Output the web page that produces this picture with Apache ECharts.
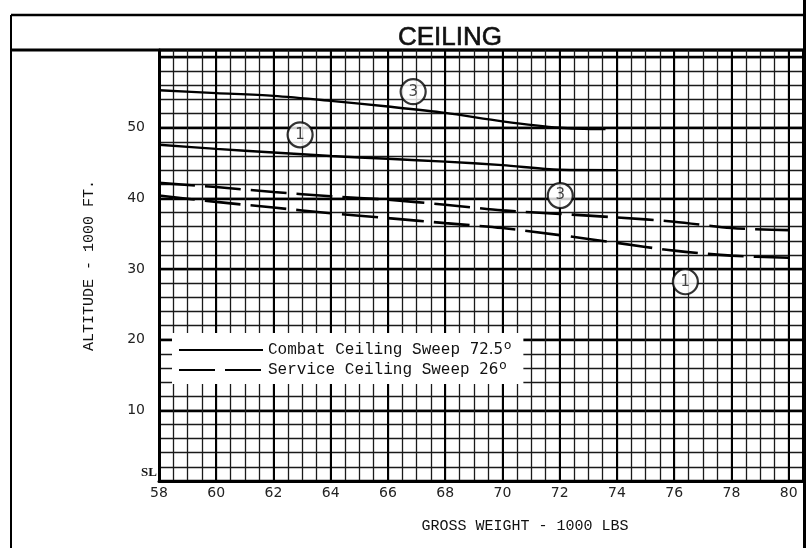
<!DOCTYPE html>
<html>
<head>
<meta charset="utf-8">
<script src="https://cdn.jsdelivr.net/npm/echarts@6/dist/echarts.min.js"></script>
<style>html,body{margin:0;padding:0;background:#fff}#c{width:809px;height:548px}</style>
</head>
<body>
<div id="c"></div>
<script>
// ---- data ----
const weights = [58, 60, 62, 64, 66, 68, 70, 72, 74, 76, 78, 80];
const combatCfg3 = [[58,55.3],[60,54.9],[62,54.5],[64,53.8],[66,53.0],[68,52.1],[70,50.9],[72,50.0],[73.6,49.8]];
const combatCfg1 = [[58,47.6],[60,47.0],[62,46.5],[64,46.0],[66,45.6],[68,45.2],[70,44.7],[72,44.05],[74,44.0]];
const serviceCfg3 = [42.2, 41.6, 40.9, 40.3, 39.8, 39.1, 38.3, 37.8, 37.3, 36.7, 35.8, 35.5];
const serviceCfg1 = [40.4, 39.5, 38.7, 37.9, 37.2, 36.5, 35.8, 34.8, 33.7, 32.6, 31.9, 31.6];
const configMarks = [[66.88,55.1,'3'],[62.93,49.0,'1'],[72.02,40.4,'3'],[76.39,28.2,'1']];
const legendNames = ['Combat Ceiling Sweep', 'Service Ceiling Sweep'];
const legendSweeps = ['72.5', '26'];
const yTickLabels = {0:'SL',10:'10',20:'20',30:'30',40:'40',50:'50'};
const xTickLabels = [58,60,62,64,66,68,70,72,74,76,78,80];

const combatName = legendNames[0] + ' ' + legendSweeps[0];
const serviceName = legendNames[1] + ' ' + legendSweeps[1];
const pair = arr => weights.map((w,i)=>[w,arr[i]]);

const chart = echarts.init(document.getElementById('c'));
const ink = '#111';
const gridColor = '#1a1a1a';
const monoFont = 'Liberation Mono';

chart.setOption({
  backgroundColor: '#fff',
  animation: false,
  title: {
    text: 'CEILING', left: 445, top: 20, textAlign: 'center',
    textStyle: {fontFamily: 'Liberation Sans', fontSize: 26, fontWeight: 'normal', color: ink, textBorderColor: ink, textBorderWidth: 0.6}
  },
  grid: {left: 159, right: 6, top: 50, bottom: 67},
  legend: {
    orient: 'vertical', left: 172, top: 333,
    backgroundColor: '#fff', padding: [7, 12, 4, 6], itemGap: 0,
    itemWidth: 84, itemHeight: 10,
    data: [combatName, serviceName],
    itemStyle: {opacity: 0},
    formatter: name => {
      const i = name === combatName ? 0 : 1;
      return legendNames[i] + ' {num|' + legendSweeps[i] + '}{sup|o}';
    },
    textStyle: {
      fontFamily: monoFont, fontSize: 16, color: ink, lineHeight: 20,
      rich: {
        num: {fontFamily: 'DejaVu Sans', fontSize: 15, color: ink, lineHeight: 20},
        sup: {fontFamily: 'DejaVu Sans', fontSize: 12, color: ink, lineHeight: 12, verticalAlign: 'top', padding: [0,0,0,1]}
      }
    }
  },
  xAxis: [{
    type: 'value', min: 58, max: 80.5, interval: 0.5,
    name: 'GROSS WEIGHT - 1000 LBS', nameLocation: 'middle', nameGap: 38,
    nameTextStyle: {fontFamily: monoFont, fontSize: 15, color: ink, padding: [0,0,0,88]},
    axisLine: {show: true, onZero: false, lineStyle: {color: '#000', width: 3}},
    axisTick: {show: false},
    axisLabel: {
      margin: 5, fontFamily: 'DejaVu Sans', fontSize: 14, color: '#222',
      formatter: v => xTickLabels.includes(v) ? String(v) : ''
    },
    splitLine: {show: true, lineStyle: {color: gridColor, width: 1.3}}
  }, {
    type: 'value', min: 58, max: 80.5, interval: 2, position: 'top',
    axisLine: {show: false}, axisTick: {show: false}, axisLabel: {show: false},
    splitLine: {show: true, lineStyle: {color: '#000', width: 2}}
  }],
  yAxis: [{
    type: 'value', min: 0, max: 61, interval: 2,
    name: 'ALTITUDE - 1000 FT.', nameLocation: 'middle', nameGap: 62,
    nameTextStyle: {fontFamily: monoFont, fontSize: 15, color: ink},
    axisLine: {show: true, lineStyle: {color: '#000', width: 3}},
    axisTick: {show: false},
    axisLabel: {
      margin: 2,
      formatter: v => v === 0 ? '{sl|SL}' : (yTickLabels[v] ? '{n|' + yTickLabels[v] + '}' : ''),
      rich: {
        n: {fontFamily: 'DejaVu Sans', fontSize: 14, color: '#222', padding: [0,12,0,0]},
        sl: {fontFamily: 'Liberation Serif', fontWeight: 'bold', fontSize: 13, color: ink, padding: [0,0,16,0]}
      }
    },
    splitLine: {show: true, lineStyle: {color: gridColor, width: 1.3}}
  }, {
    type: 'value', min: 0, max: 61, interval: 10, position: 'right',
    axisLine: {show: false}, axisTick: {show: false}, axisLabel: {show: false},
    splitLine: {show: true, lineStyle: {color: '#000', width: 2.4}}
  }],
  series: [
    {name: combatName, type: 'line', data: combatCfg3, symbol: 'none', smooth: 0.3,
     lineStyle: {color: '#000', width: 2.4}, itemStyle: {color: '#000'}, z: 5},
    {name: combatName, type: 'line', data: combatCfg1, symbol: 'none', smooth: 0.3,
     lineStyle: {color: '#000', width: 2.4}, itemStyle: {color: '#000'}, z: 5},
    {name: serviceName, type: 'line', data: pair(serviceCfg3), symbol: 'none', smooth: 0.3,
     lineStyle: {color: '#000', width: 2.6, type: [36, 10]}, itemStyle: {color: '#000'}, z: 5},
    {name: serviceName, type: 'line', data: pair(serviceCfg1), symbol: 'none', smooth: 0.3,
     lineStyle: {color: '#000', width: 2.6, type: [36, 10]}, itemStyle: {color: '#000'}, z: 5},
    {name: 'config', type: 'scatter', data: configMarks, symbol: 'circle', symbolSize: 25, z: 6,
     itemStyle: {color: '#fff', borderColor: '#000', borderWidth: 2.2},
     label: {show: true, position: 'inside', formatter: p => p.data[2],
             fontFamily: 'DejaVu Sans', fontSize: 15, color: ink}}
  ],
  graphic: [
    {type: 'line', shape: {x1: 11, y1: 15, x2: 11, y2: 548}, style: {stroke: '#000', lineWidth: 2}},
    {type: 'line', shape: {x1: 11, y1: 15, x2: 806, y2: 15}, style: {stroke: '#000', lineWidth: 2.5}},
    {type: 'line', shape: {x1: 11, y1: 50, x2: 806, y2: 50}, style: {stroke: '#000', lineWidth: 3}},
    {type: 'line', shape: {x1: 804.5, y1: 0, x2: 804.5, y2: 548}, style: {stroke: '#000', lineWidth: 3}}
  ]
});
</script>
</body>
</html>
